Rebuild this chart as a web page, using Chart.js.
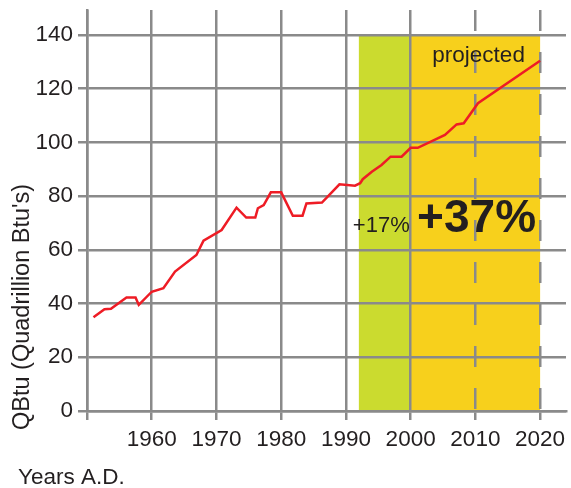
<!DOCTYPE html>
<html>
<head>
<meta charset="utf-8">
<script src="https://cdn.jsdelivr.net/npm/chart.js@4"></script>
<style>
  html, body { margin: 0; padding: 0; background: #fff; }
</style>
</head>
<body>
<canvas id="energyChart" width="571" height="488"></canvas>
<script>
// values (year, quadrillion Btu)
const years = [1951, 1952.7, 1953.7, 1956.1, 1957.5, 1958, 1960, 1961.8, 1963.6, 1966.9, 1968, 1970.8,
               1973.1, 1974.6, 1976, 1976.4, 1977.3, 1978.4, 1980, 1981.8, 1983.3, 1983.9, 1986.3, 1989,
               1991.4, 1992.2, 1992.6, 1994, 1995.5, 1996.9, 1998.6, 2000, 2001.1, 2005.3, 2007.1, 2008.2,
               2010.4, 2020];
const qbtu = [34.9, 37.9, 38.1, 42.3, 42.3, 39.5, 44.4, 45.7, 51.9, 58.1, 63.4, 67.4,
              75.7, 72.0, 72.0, 75.5, 76.7, 81.4, 81.4, 72.7, 72.7, 77.3, 77.6, 84.4,
              83.9, 84.8, 86.3, 89.1, 91.6, 94.7, 94.7, 98.0, 98.0, 102.8, 106.7, 107.1,
              114.6, 130.4];

const xTicks = [1950, 1960, 1970, 1980, 1990, 2000, 2010, 2020];
const yTicks = [0, 20, 40, 60, 80, 100, 120, 140];
const projectedFrom = 2010;

const bandStart = [1992, 2000];
const bandEnd = [2000, 2020];
const bandTop = 140;
const bandLabels = ['+17%', '+37%'];

const gridGray = '#8a8a8a';
const textColor = '#231f20';
const fontFamily = '"Liberation Sans", Arial, sans-serif';
const bandColors = ['#cbdb2f', '#f7d01c'];

const bandsPlugin = {
    id: 'bands',
    beforeDraw(chart) {
        const {ctx, scales: {x, y}} = chart;
        ctx.save();
        for (let i = 0; i < bandStart.length; i++) {
            const left = x.getPixelForValue(bandStart[i]);
            const right = x.getPixelForValue(bandEnd[i]);
            const top = y.getPixelForValue(bandTop);
            const bottom = y.getPixelForValue(0);
            ctx.fillStyle = bandColors[i];
            ctx.fillRect(left, top, right - left, bottom - top);
        }
        ctx.restore();
    }
};

const textPlugin = {
    id: 'texts',
    afterDatasetsDraw(chart) {
        const {ctx, scales: {x, y}} = chart;
        ctx.save();
        ctx.fillStyle = textColor;

        // band labels
        ctx.textBaseline = 'alphabetic';
        ctx.textAlign = 'left';
        ctx.font = '22px ' + fontFamily;
        ctx.fillText(bandLabels[0], x.getPixelForValue(1992) - 6, y.getPixelForValue(66.5));
        ctx.font = 'bold 46px ' + fontFamily;
        ctx.fillText(bandLabels[1], x.getPixelForValue(2001), y.getPixelForValue(66.5));

        ctx.font = '22.5px ' + fontFamily;
        ctx.textAlign = 'center';
        ctx.fillText('projected', x.getPixelForValue(2010.5), y.getPixelForValue(130));

        // axis titles
        ctx.textAlign = 'left';
        ctx.fillText('Years A.D.', 18, 484);

        ctx.font = '23.5px ' + fontFamily;
        ctx.translate(29, 430);
        ctx.rotate(-Math.PI / 2);
        ctx.fillText("QBtu (Quadrillion Btu's)", 0, 0);
        ctx.restore();
    }
};

new Chart(document.getElementById('energyChart'), {
    type: 'line',
    data: {
        datasets: [{
            label: 'Energy use',
            data: years.map((yr, i) => ({x: yr, y: qbtu[i]})),
            borderColor: '#ee1c25',
            borderWidth: 2.5,
            pointRadius: 0,
            tension: 0,
            fill: false
        }]
    },
    options: {
        responsive: false,
        animation: false,
        devicePixelRatio: 1,
        layout: {padding: {top: 10, right: 5, left: 0, bottom: 0}},
        plugins: {
            legend: {display: false},
            tooltip: {enabled: false}
        },
        scales: {
            x: {
                type: 'linear',
                min: 1950,
                max: 2024,
                afterBuildTicks: (scale) => { scale.ticks = xTicks.map(v => ({value: v})); },
                afterFit: (scale) => {
                    scale.height = 77;
                    scale.paddingLeft = 0;
                    scale.paddingRight = 0;
                },
                ticks: {
                    autoSkip: false,
                    maxRotation: 0,
                    padding: 6,
                    color: textColor,
                    font: {family: fontFamily, size: 22.5},
                    callback: (v) => v === 1950 ? '' : String(v)
                },
                grid: {
                    color: gridGray,
                    lineWidth: 2.5,
                    tickLength: 9,
                    tickColor: gridGray,
                    tickWidth: 2.5
                },
                border: {
                    color: gridGray,
                    width: 2.5,
                    dash: (ctx) => (ctx.tick && ctx.tick.value >= projectedFrom) ? [21, 21] : []
                }
            },
            y: {
                min: 0,
                max: 149.3,
                afterBuildTicks: (scale) => { scale.ticks = yTicks.map(v => ({value: v})); },
                afterFit: (scale) => {
                    scale.width = 87;
                    scale.paddingTop = 0;
                    scale.paddingBottom = 0;
                },
                ticks: {
                    padding: 5,
                    color: textColor,
                    font: {family: fontFamily, size: 22.5},
                    callback: (v) => String(v)
                },
                grid: {
                    color: gridGray,
                    lineWidth: 2.5,
                    tickLength: 9,
                    tickColor: gridGray,
                    tickWidth: 2.5
                },
                border: {color: gridGray, width: 2.5}
            }
        }
    },
    plugins: [bandsPlugin, textPlugin]
});
</script>
</body>
</html>
